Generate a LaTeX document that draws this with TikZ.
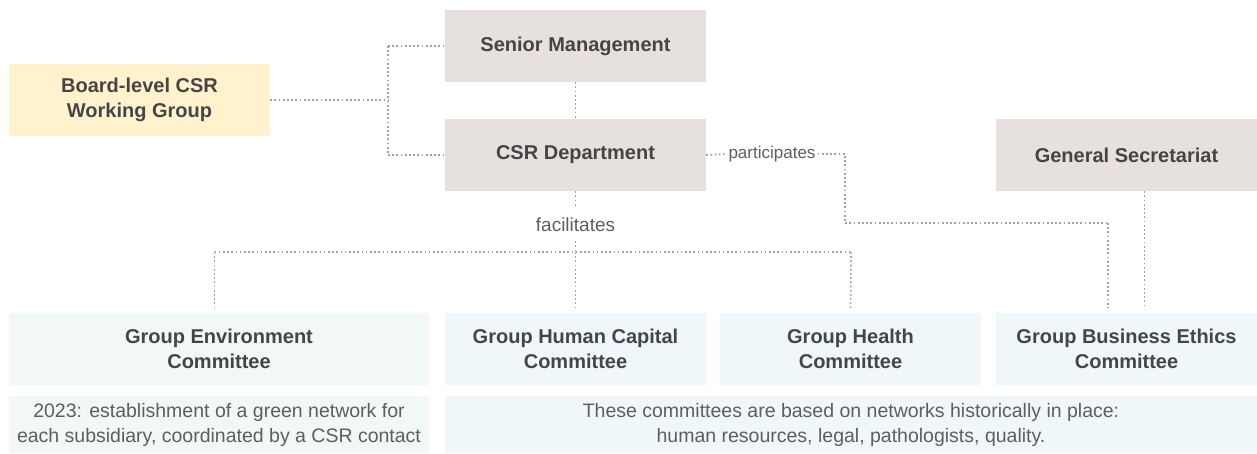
\documentclass[tikz,border=0pt]{standalone}
\usepackage{fontspec}
\setmainfont{Liberation Sans}
\usetikzlibrary{positioning}

\definecolor{boardfill}{HTML}{FFF2CC}
\definecolor{mgmtfill}{HTML}{E6E1DE}
\definecolor{envfill}{HTML}{F2F8F4}
\definecolor{comfill}{HTML}{F0F7FB}
\definecolor{boxtext}{HTML}{454545}
\definecolor{notetext}{HTML}{5E5E5E}
\definecolor{linkgray}{HTML}{A2A2A2}

\begin{document}
\begin{tikzpicture}[x=1pt,y=-1pt]
   \tikzstyle{unit}=[inner sep=0pt, minimum width=261pt, minimum height=72pt, align=center, text=boxtext, font=\fontsize{20}{25}\selectfont\bfseries]
   \tikzstyle{wide}=[unit, minimum width=420pt]
   \tikzstyle{note}=[inner sep=0pt, minimum height=57pt, align=center, text=notetext, font=\fontsize{19.5}{25}\selectfont]
   \tikzstyle{link}=[draw=linkgray, line width=1.7pt, dash pattern=on 1.7pt off 2.5pt]
   \tikzstyle{tag}=[inner sep=0pt, text=notetext, font=\fontsize{19}{22}\selectfont]

   \useasboundingbox (0,0) rectangle (1257,453);

\node[unit, fill=boardfill] (board) at (139.5,100) {Board-level CSR\\Working Group};
\node[unit, fill=mgmtfill] (senior) at (575.5,46) {Senior Management};
\node[unit, fill=mgmtfill] (csr) at (575.5,155) {CSR Department};
\node[unit, fill=mgmtfill] (gensec) at (1126.5,155) {General Secretariat};

\node[wide, fill=envfill] (env) at (219,349) {Group Environment\\Committee};
\node[unit, fill=comfill] (hc) at (575.5,349) {Group Human Capital\\Committee};
\node[unit, fill=comfill] (health) at (850.5,349) {Group Health\\Committee};
\node[unit, fill=comfill] (ethics) at (1126.5,349) {Group Business Ethics\\Committee};

\node[note, fill=envfill, minimum width=420pt] (envnote) at (219,424.5) {2023: establishment of a green network for\\each subsidiary, coordinated by a CSR contact};
\node[note, fill=comfill, minimum width=812pt] (comnote) at (851,424.5) {These committees are based on networks historically in place:\\human resources, legal, pathologists, quality.};

\node[tag] (fac) at (575.5,225) {facilitates};
\node[tag, font=\fontsize{17}{20}\selectfont, inner sep=2pt] (part) at (772,154) {participates};

\coordinate (join) at (388,100);
\coordinate (busL) at (214.5,252);
\coordinate (busM) at (575.5,252);
\coordinate (busR) at (851,252);
\coordinate (turn) at (845,154);
\coordinate (drop) at (1108,223);

\draw[link] (board.east) -- (join);
\draw[link] (join |- senior.west) -- (join |- csr.west);
\draw[link] (join |- senior.west) -- (senior.west);
\draw[link] (join |- csr.west) -- (csr.west);
\draw[link] (senior.south) -- (csr.north);
\draw[link, shorten >=10pt] (csr.south) -- (fac.north);
\draw[link, shorten <=9pt] (fac.south) -- (busM);
\draw[link] (busL) -- (busR);
\draw[link, shorten >=5pt] (busL) -- (busL |- env.north);
\draw[link, shorten >=5pt] (busM) -- (hc.north);
\draw[link, shorten >=5pt] (busR) -- (health.north);
\draw[link] (csr.east) -- (part.west);
\draw[link] (part.east) -- (turn) -- (turn |- drop) -- (drop);
\draw[link, shorten >=5pt] (drop) -- (drop |- ethics.north);
\draw[link, shorten >=5pt] ([xshift=18pt]gensec.south) -- ([xshift=18pt]gensec.south |- ethics.north);
\end{tikzpicture}
\end{document}
